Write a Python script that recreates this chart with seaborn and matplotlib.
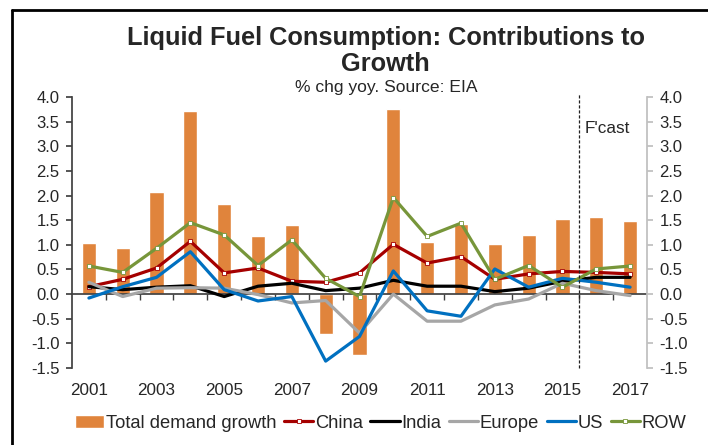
import numpy as np
import pandas as pd
import matplotlib
matplotlib.use("Agg")
import matplotlib.pyplot as plt
import seaborn as sns

sns.set_theme(style="white")
plt.rcParams["font.family"] = ["Liberation Sans", "DejaVu Sans"]

# data
years = [str(y) for y in range(2001, 2018)]
total = [1.03, 0.93, 2.07, 3.71, 1.83, 1.18, 1.40, -0.82, -1.23, 3.75, 1.06, 1.43, 1.01, 1.19, 1.52, 1.56, 1.48]
china = [0.15, 0.30, 0.53, 1.07, 0.43, 0.53, 0.26, 0.24, 0.43, 1.01, 0.63, 0.76, 0.30, 0.41, 0.46, 0.44, 0.41]
india = [0.15, 0.09, 0.14, 0.17, -0.05, 0.16, 0.22, 0.07, 0.12, 0.28, 0.16, 0.16, 0.05, 0.12, 0.26, 0.34, 0.34]
europe = [0.24, -0.05, 0.12, 0.13, 0.12, -0.01, -0.18, -0.13, -0.79, 0.00, -0.55, -0.55, -0.22, -0.10, 0.22, 0.07, -0.03]
us = [-0.08, 0.15, 0.34, 0.86, 0.09, -0.14, -0.05, -1.36, -0.86, 0.47, -0.34, -0.45, 0.51, 0.14, 0.32, 0.24, 0.14]
row = [0.57, 0.44, 0.93, 1.45, 1.20, 0.58, 1.10, 0.32, -0.05, 1.96, 1.17, 1.44, 0.30, 0.58, 0.14, 0.51, 0.57]
ticks = [4.0, 3.5, 3.0, 2.5, 2.0, 1.5, 1.0, 0.5, 0.0, -0.5, -1.0, -1.5]
forecast_after = "2015"

ORANGE = "#E0843C"
FS = 12
fig = plt.figure(figsize=(7.08, 4.45), dpi=100)
ax = fig.add_axes([72/708, 1-368/445, (647-72)/708, (368-97)/445])

df = pd.DataFrame({"year": years, "total": total})
sns.barplot(data=df, x="year", y="total", color=ORANGE, width=0.42, saturation=1,
            ax=ax, label="Total demand growth", zorder=2)
pos = np.arange(len(years))
series = [("China", china, "#A50000", True), ("India", india, "black", False),
          ("Europe", europe, "#A6A6A6", False), ("US", us, "#0070C0", False),
          ("ROW", row, "#77963A", True)]
for name, vals, col, mk in series:
    kw = dict(marker="s", ms=3.5, mfc="white", mec=col, mew=0.6) if mk else {}
    ax.plot(pos, vals, color=col, lw=2.3, label=name, zorder=3, **kw)
if ax.get_legend() is not None:
    ax.get_legend().remove()

ax.set_ylim(-1.5, 4.0)
ax.set_xlim(-0.5, len(years) - 0.5)
ax.set_yticks(ticks)
ax.set_yticklabels([f"{t:.1f}" for t in ticks], fontsize=FS)
ax.tick_params(axis="y", direction="out", length=4, color="#404040", left=True, pad=5)
ax.set_xlabel(""); ax.set_ylabel("")

# x axis on the zero line, boundary ticks, labels at the bottom
ax.spines["bottom"].set_position(("data", 0))
ax.spines["bottom"].set_color("#404040")
ax.spines["left"].set_color("#404040")
for s in ["top", "right"]:
    ax.spines[s].set_visible(False)
ax.set_xticks(pos[::2])
ax.set_xticklabels(years[::2], fontsize=12.3)
ax.set_xticks(pos[:-1] + 0.5, minor=True)
ax.tick_params(axis="x", which="major", length=0, pad=64)
ax.tick_params(axis="x", which="minor", direction="out", length=4, color="#404040", bottom=True)

ax2 = ax.twinx()
ax2.set_ylim(-1.5, 4.0)
ax2.set_yticks(ticks)
ax2.set_yticklabels([f"{t:.1f}" for t in ticks], fontsize=FS)
ax2.tick_params(axis="y", direction="out", length=4, color="#BFBFBF", right=True, pad=5)
for s in ["top", "left", "bottom"]:
    ax2.spines[s].set_visible(False)
ax2.spines["right"].set_color("#BFBFBF")

fx = years.index(forecast_after) + 0.5
ax.axvline(fx, ymin=0, ymax=1.015, color="#202020", lw=0.9, ls=(0, (2.5, 1.5)), clip_on=False, zorder=4)
ax.text(fx + 0.15, 3.37, "F'cast", fontsize=12.3, va="center", ha="left")

fig.text(0.545, 0.886, "Liquid Fuel Consumption: Contributions to\nGrowth", ha="center", va="center",
         fontsize=18.3, fontweight="bold", linespacing=1.12)
fig.text(0.545, 0.804, "% chg yoy. Source: EIA", ha="center", va="center", fontsize=12.6)

h, l = ax.get_legend_handles_labels()
order = ["Total demand growth"] + [s[0] for s in series]
h = [h[l.index(n)] for n in order]
fig.legend(h, order, loc="center", bbox_to_anchor=(0.538, 0.049), ncol=6, frameon=False, fontsize=13.2,
           handlelength=1.6, handletextpad=0.1, columnspacing=0.4, borderaxespad=0)

# outer frame (top and left edge)
fig.add_artist(plt.Line2D([12/708, 1], [1-10/445, 1-10/445], color="black", lw=2))
fig.add_artist(plt.Line2D([12/708, 12/708], [0, 1-10/445], color="black", lw=2))

fig.savefig("out.png", dpi=100)
